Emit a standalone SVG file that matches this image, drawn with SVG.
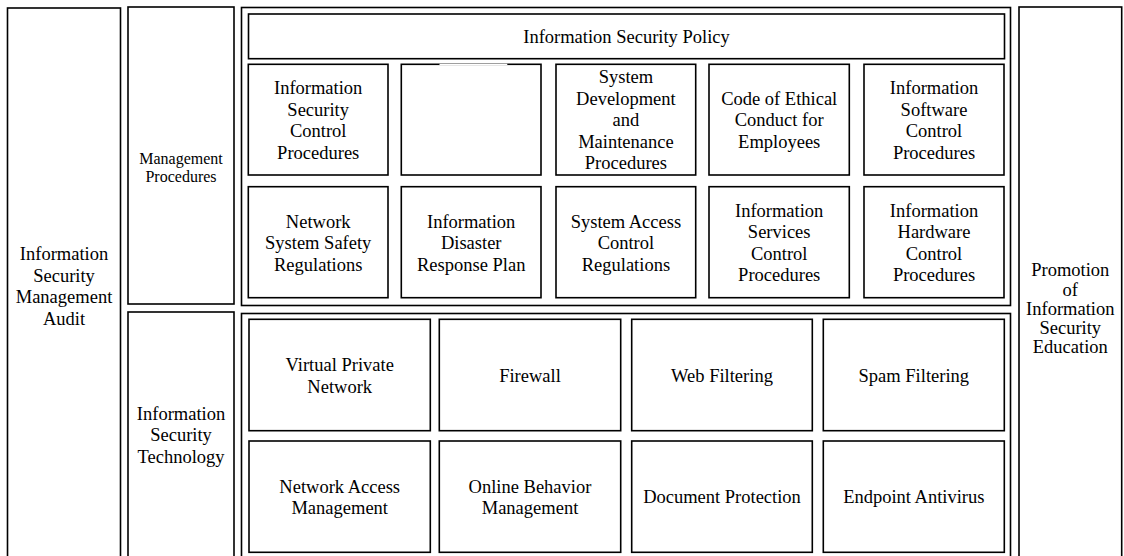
<svg xmlns="http://www.w3.org/2000/svg" width="1124" height="556" viewBox="0 0 1124 556">
<style>
rect{fill:#fff;stroke:#000;stroke-width:1.6}
text{font-family:"Liberation Serif","Times New Roman",serif;font-size:18.5px;fill:#000;text-anchor:middle}
.s{font-size:16px}
</style>
<rect width="1124" height="556" style="stroke:none"/>
<g id="audit"><rect x="7.5" y="8" width="113" height="560"/>
<text x="64" y="260">Information</text><text x="64" y="281.5">Security</text><text x="64" y="303">Management</text><text x="64" y="324.5">Audit</text></g>
<g id="mgmt"><rect x="128" y="7" width="106" height="297"/>
<text class="s" x="181" y="164">Management</text><text class="s" x="181" y="182">Procedures</text></g>
<g id="tech"><rect x="128" y="312" width="106" height="260"/>
<text x="181" y="419.5">Information</text><text x="181" y="441">Security</text><text x="181" y="462.5">Technology</text></g>
<g id="promo"><rect x="1019" y="7" width="102.7" height="560"/>
<text x="1070.3" y="276">Promotion</text><text x="1070.3" y="296">of</text><text x="1070.3" y="315">Information</text><text x="1070.3" y="334">Security</text><text x="1070.3" y="353">Education</text></g>
<g id="mgmt-container"><rect x="241.5" y="7.5" width="769" height="298"/></g>
<g id="tech-container"><rect x="241.5" y="313.5" width="769" height="260"/></g>
<g id="policy"><rect x="248.5" y="14" width="756" height="44.7"/><text x="626.5" y="42.7">Information Security Policy</text></g>
<g id="m1"><rect x="248.3" y="64.3" width="139.7" height="110.7"/>
<text x="318.2" y="94.2">Information</text><text x="318.2" y="115.7">Security</text><text x="318.2" y="137.2">Control</text><text x="318.2" y="158.7">Procedures</text></g>
<g id="m2"><rect x="401.3" y="64.3" width="139.7" height="110.7"/><line x1="439.5" y1="64.3" x2="507.3" y2="64.3" stroke="#fff" stroke-width="1.2"/></g>
<g id="m3"><rect x="556" y="64.3" width="139.7" height="110.7"/>
<text x="625.9" y="83.45">System</text><text x="625.9" y="104.95">Development</text><text x="625.9" y="126.45">and</text><text x="625.9" y="147.95">Maintenance</text><text x="625.9" y="169.45">Procedures</text></g>
<g id="m4"><rect x="709" y="64.3" width="140.3" height="110.7"/>
<text x="779.2" y="104.95">Code of Ethical</text><text x="779.2" y="126.45">Conduct for</text><text x="779.2" y="147.95">Employees</text></g>
<g id="m5"><rect x="864" y="64.3" width="140" height="110.7"/>
<text x="934" y="94.2">Information</text><text x="934" y="115.7">Software</text><text x="934" y="137.2">Control</text><text x="934" y="158.7">Procedures</text></g>
<g id="m6"><rect x="248.3" y="186.7" width="139.7" height="111"/>
<text x="318.2" y="227.5">Network</text><text x="318.2" y="249">System Safety</text><text x="318.2" y="270.5">Regulations</text></g>
<g id="m7"><rect x="401.3" y="186.7" width="139.7" height="111"/>
<text x="471.2" y="227.5">Information</text><text x="471.2" y="249">Disaster</text><text x="471.2" y="270.5">Response Plan</text></g>
<g id="m8"><rect x="556" y="186.7" width="139.7" height="111"/>
<text x="625.9" y="227.5">System Access</text><text x="625.9" y="249">Control</text><text x="625.9" y="270.5">Regulations</text></g>
<g id="m9"><rect x="709" y="186.7" width="140.3" height="111"/>
<text x="779.2" y="216.75">Information</text><text x="779.2" y="238.25">Services</text><text x="779.2" y="259.75">Control</text><text x="779.2" y="281.25">Procedures</text></g>
<g id="m10"><rect x="864" y="186.7" width="140" height="111"/>
<text x="934" y="216.75">Information</text><text x="934" y="238.25">Hardware</text><text x="934" y="259.75">Control</text><text x="934" y="281.25">Procedures</text></g>
<g id="t1"><rect x="249" y="319.3" width="181.3" height="111.4"/>
<text x="339.7" y="371">Virtual Private</text><text x="339.7" y="392.5">Network</text></g>
<g id="t2"><rect x="439.3" y="319.3" width="181.4" height="111.4"/><text x="530" y="381.8">Firewall</text></g>
<g id="t3"><rect x="631.7" y="319.3" width="180.6" height="111.4"/><text x="722" y="381.8">Web Filtering</text></g>
<g id="t4"><rect x="823.3" y="319.3" width="181" height="111.4"/><text x="913.8" y="381.8">Spam Filtering</text></g>
<g id="t5"><rect x="249" y="441" width="181.3" height="111.3"/>
<text x="339.7" y="492.5">Network Access</text><text x="339.7" y="514">Management</text></g>
<g id="t6"><rect x="439.3" y="441" width="181.4" height="111.3"/>
<text x="530" y="492.5">Online Behavior</text><text x="530" y="514">Management</text></g>
<g id="t7"><rect x="631.7" y="441" width="180.6" height="111.3"/><text x="722" y="503.3">Document Protection</text></g>
<g id="t8"><rect x="823.3" y="441" width="181" height="111.3"/><text x="913.8" y="503.3">Endpoint Antivirus</text></g>
<g id="connectors"/>
</svg>
